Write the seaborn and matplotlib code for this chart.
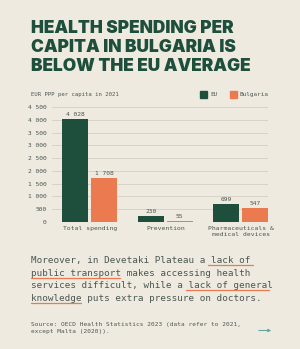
import matplotlib
matplotlib.use("Agg")
import matplotlib.pyplot as plt
import seaborn as sns
import pandas as pd

categories = ["Total spending", "Prevention", "Pharmaceuticals &\nmedical devices"]
eu_values = [4028, 230, 699]
bg_values = [1708, 55, 547]
series_names = ["EU", "Bulgaria"]
y_ticks = [0, 500, 1000, 1500, 2000, 2500, 3000, 3500, 4000, 4500]

BG = "#EEEAE0"
GREEN = "#1E4F3D"
ORANGE = "#EC7A50"
TEXT = "#4A5652"
GRID = "#D3CFC3"

sns.set_theme(style="white")
plt.rcParams["font.family"] = ["DejaVu Sans Mono", "DejaVu Sans"]

df = pd.DataFrame({
    "category": categories * 2,
    "value": eu_values + bg_values,
    "region": [series_names[0]] * 3 + [series_names[1]] * 3,
})

W, H = 300, 349
fig = plt.figure(figsize=(W / 100, H / 100), dpi=100, facecolor=BG)

def fx(x):
    return x / W

def fy(y):
    return 1 - y / H

ax = fig.add_axes([fx(52), fy(222), fx(268) - fx(52), fy(107) - fy(222)])
ax.set_facecolor(BG)
sns.barplot(data=df, x="category", y="value", hue="region",
            palette=[GREEN, ORANGE], width=0.76, gap=0.095,
            ax=ax, legend=False, saturation=1, errorbar=None, zorder=3,
            linewidth=0)
ax.set_xlim(-0.5, 2.36)
ax.set_ylim(0, 4500)
ax.set_yticks(y_ticks)
ax.set_yticklabels([f"{v:,}".replace(",", " ") for v in y_ticks], fontsize=4.5, color=TEXT)
ax.tick_params(axis="both", length=0, pad=4)
ax.tick_params(axis="x", pad=3)
ax.set_xticks(range(len(categories)))
ax.set_xticklabels(categories, fontsize=4.6, color=TEXT, linespacing=1.25)
ax.set_xlabel("")
ax.set_ylabel("")
for s in ax.spines.values():
    s.set_visible(False)
ax.grid(axis="y", color=GRID, lw=0.6, zorder=0)
ax.set_axisbelow(True)
for cont in ax.containers:
    ax.bar_label(cont, labels=[f"{int(v):,}".replace(",", " ") for v in cont.datavalues],
                 padding=1.5, fontsize=4.5, color=TEXT)

# Title (fit widest line to reference width)
title_lines = ["HEALTH SPENDING PER", "CAPITA IN BULGARIA IS", "BELOW THE EU AVERAGE"]
renderer = fig.canvas.get_renderer()
probe = fig.text(0, 0, title_lines[2], fontsize=10, fontweight="black",
                 family=["Inter", "DejaVu Sans"])
wpx = probe.get_window_extent(renderer).width
probe.remove()
tsize = 10 * 220 / wpx
for i, line in enumerate(title_lines):
    fig.text(fx(31), fy(33.3 + i * 19.0), line, fontsize=tsize, fontweight="black",
             family=["Inter", "DejaVu Sans"], color=GREEN, va="baseline", ha="left")

# Axis caption
fig.text(fx(31), fy(94.5), "EUR PPP per capita in 2021", fontsize=4.1, color=TEXT,
         va="center", ha="left")

# Legend
for xs, name, col in [(200, "EU", GREEN), (230, "Bulgaria", ORANGE)]:
    fig.patches.append(plt.Rectangle((fx(xs), fy(97.5)), fx(7), fy(0) - fy(6.5),
                                     transform=fig.transFigure, color=col, figure=fig))
    fig.text(fx(xs + 10), fy(94.5), name, fontsize=4.3, color=TEXT, va="center", ha="left")

# Body text with underlines
body = [
    ("Moreover, in Devetaki Plateau a lack of ", "lack of "),
    ("public transport makes accessing health", "public transport"),
    ("services difficult, while a lack of general", "lack of general"),
    ("knowledge puts extra pressure on doctors.", "knowledge"),
]
char_w = 5.54
for i, (line, ul) in enumerate(body):
    yb = 263 + i * 12.6
    fig.text(fx(31), fy(yb), line, fontsize=6.65, color=TEXT, va="baseline", ha="left")
    start = line.index(ul)
    x0 = 31 + start * char_w
    x1 = x0 + len(ul.rstrip()) * char_w + (char_w if ul.endswith(" ") else 0)
    fig.add_artist(plt.Line2D([fx(x0), fx(x1)], [fy(yb + 2.2), fy(yb + 2.2)],
                              transform=fig.transFigure, color=ORANGE, lw=0.9))

# Source
fig.text(fx(31), fy(326), "Source: OECD Health Statistics 2023 (data refer to 2021,",
         fontsize=4.4, color=TEXT, va="baseline", ha="left")
fig.text(fx(31), fy(333.5), "except Malta (2020)).",
         fontsize=4.4, color=TEXT, va="baseline", ha="left")

# Arrow
fig.add_artist(matplotlib.patches.FancyArrowPatch((fx(256), fy(330.5)), (fx(274), fy(330.5)),
               transform=fig.transFigure, arrowstyle="-|>", mutation_scale=4,
               color="#5FA8A2", lw=0.8))

fig.savefig("out.png", dpi=100, facecolor=BG)
